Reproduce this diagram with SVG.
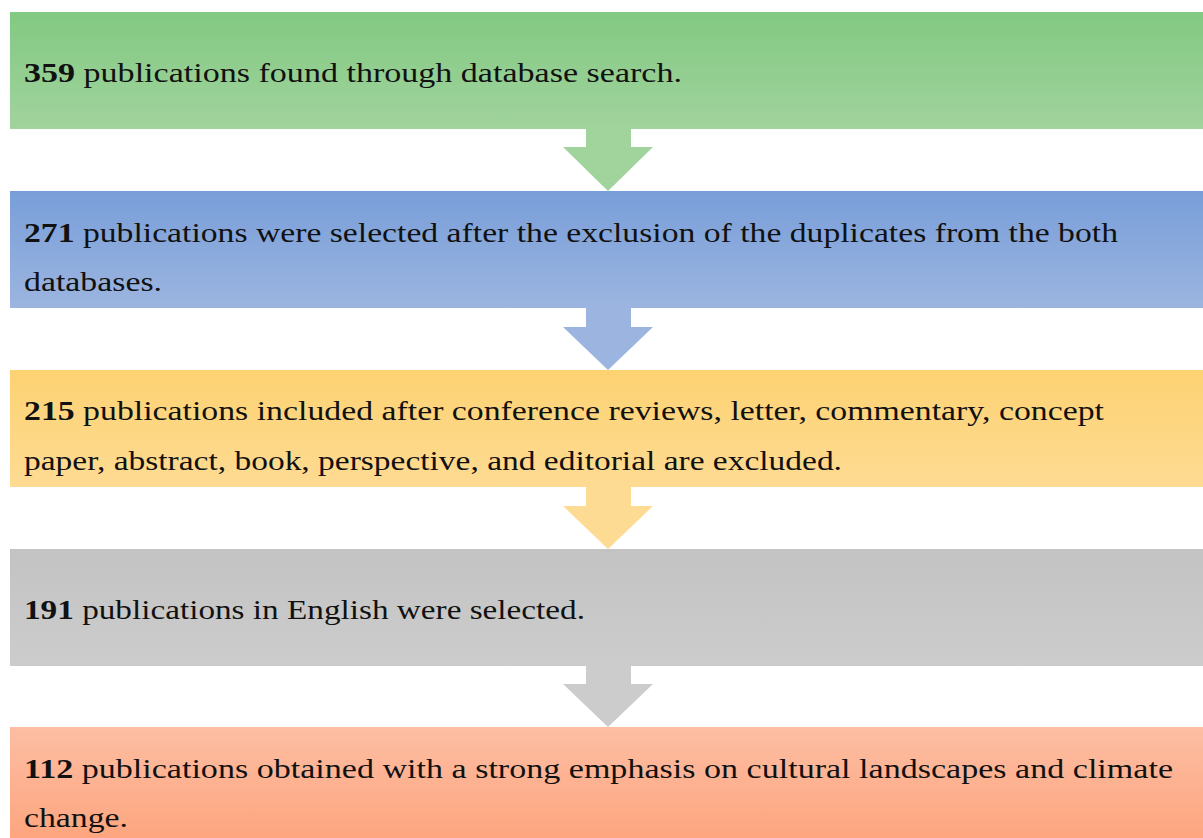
<svg xmlns="http://www.w3.org/2000/svg" width="1203" height="838" viewBox="0 0 1203 838">
<style>
text{font-family:"Liberation Serif","Times New Roman",serif;font-size:27px;fill:#111}
.b{font-weight:bold}
</style>
<defs>
<linearGradient id="gG" x1="0" y1="0" x2="0" y2="1"><stop offset="0" stop-color="#82c982"/><stop offset="1" stop-color="#a1d39d"/></linearGradient>
<linearGradient id="gB" x1="0" y1="0" x2="0" y2="1"><stop offset="0" stop-color="#789ed9"/><stop offset="1" stop-color="#9cb5e0"/></linearGradient>
<linearGradient id="gY" x1="0" y1="0" x2="0" y2="1"><stop offset="0" stop-color="#fdd272"/><stop offset="1" stop-color="#fedb93"/></linearGradient>
<linearGradient id="gK" x1="0" y1="0" x2="0" y2="1"><stop offset="0" stop-color="#c3c3c3"/><stop offset="1" stop-color="#cccccc"/></linearGradient>
<linearGradient id="gO" x1="0" y1="0" x2="0" y2="1"><stop offset="0" stop-color="#fdbea3"/><stop offset="1" stop-color="#fda47d"/></linearGradient>
<clipPath id="c3"><rect x="10" y="370" width="1200" height="117"/></clipPath>
</defs>
<g id="connectors">
<path d="M586,128 H631 V147 H653 L608,191 L563,147 H586 Z" fill="#a1d39d"/>
<path d="M586,307 H631 V327 H653 L608,370 L563,327 H586 Z" fill="#9cb5e0"/>
<path d="M586,486 H631 V506 H653 L608,549 L563,506 H586 Z" fill="#fedb93"/>
<path d="M586,665 H631 V684 H653 L608,727 L563,684 H586 Z" fill="#cccccc"/>
</g>
<g id="node1">
<rect x="10" y="12" width="1200" height="117" fill="url(#gG)"/>
<text x="24" y="82" textLength="658" lengthAdjust="spacingAndGlyphs"><tspan class="b">359</tspan> publications found through database search.</text>
</g>
<g id="node2">
<rect x="10" y="191" width="1200" height="117" fill="url(#gB)"/>
<text x="24" y="242" textLength="1094" lengthAdjust="spacingAndGlyphs"><tspan class="b">271</tspan> publications were selected after the exclusion of the duplicates from the both</text>
<text x="24" y="291" textLength="138" lengthAdjust="spacingAndGlyphs">databases.</text>
</g>
<g id="node3">
<rect x="10" y="370" width="1200" height="117" fill="url(#gY)"/>
<g clip-path="url(#c3)">
<text x="24" y="420" textLength="1080" lengthAdjust="spacingAndGlyphs"><tspan class="b">215</tspan> publications included after conference reviews, letter, commentary, concept</text>
<text x="24" y="470" textLength="818" lengthAdjust="spacingAndGlyphs">paper, abstract, book, perspective, and editorial are excluded.</text>
</g>
</g>
<g id="node4">
<rect x="10" y="549" width="1200" height="117" fill="url(#gK)"/>
<text x="24" y="619" textLength="561" lengthAdjust="spacingAndGlyphs"><tspan class="b">191</tspan> publications in English were selected.</text>
</g>
<g id="node5">
<rect x="10" y="727" width="1200" height="117" fill="url(#gO)"/>
<text x="24" y="778" textLength="1149" lengthAdjust="spacingAndGlyphs"><tspan class="b">112</tspan> publications obtained with a strong emphasis on cultural landscapes and climate</text>
<text x="24" y="827" textLength="104" lengthAdjust="spacingAndGlyphs">change.</text>
</g>
</svg>
